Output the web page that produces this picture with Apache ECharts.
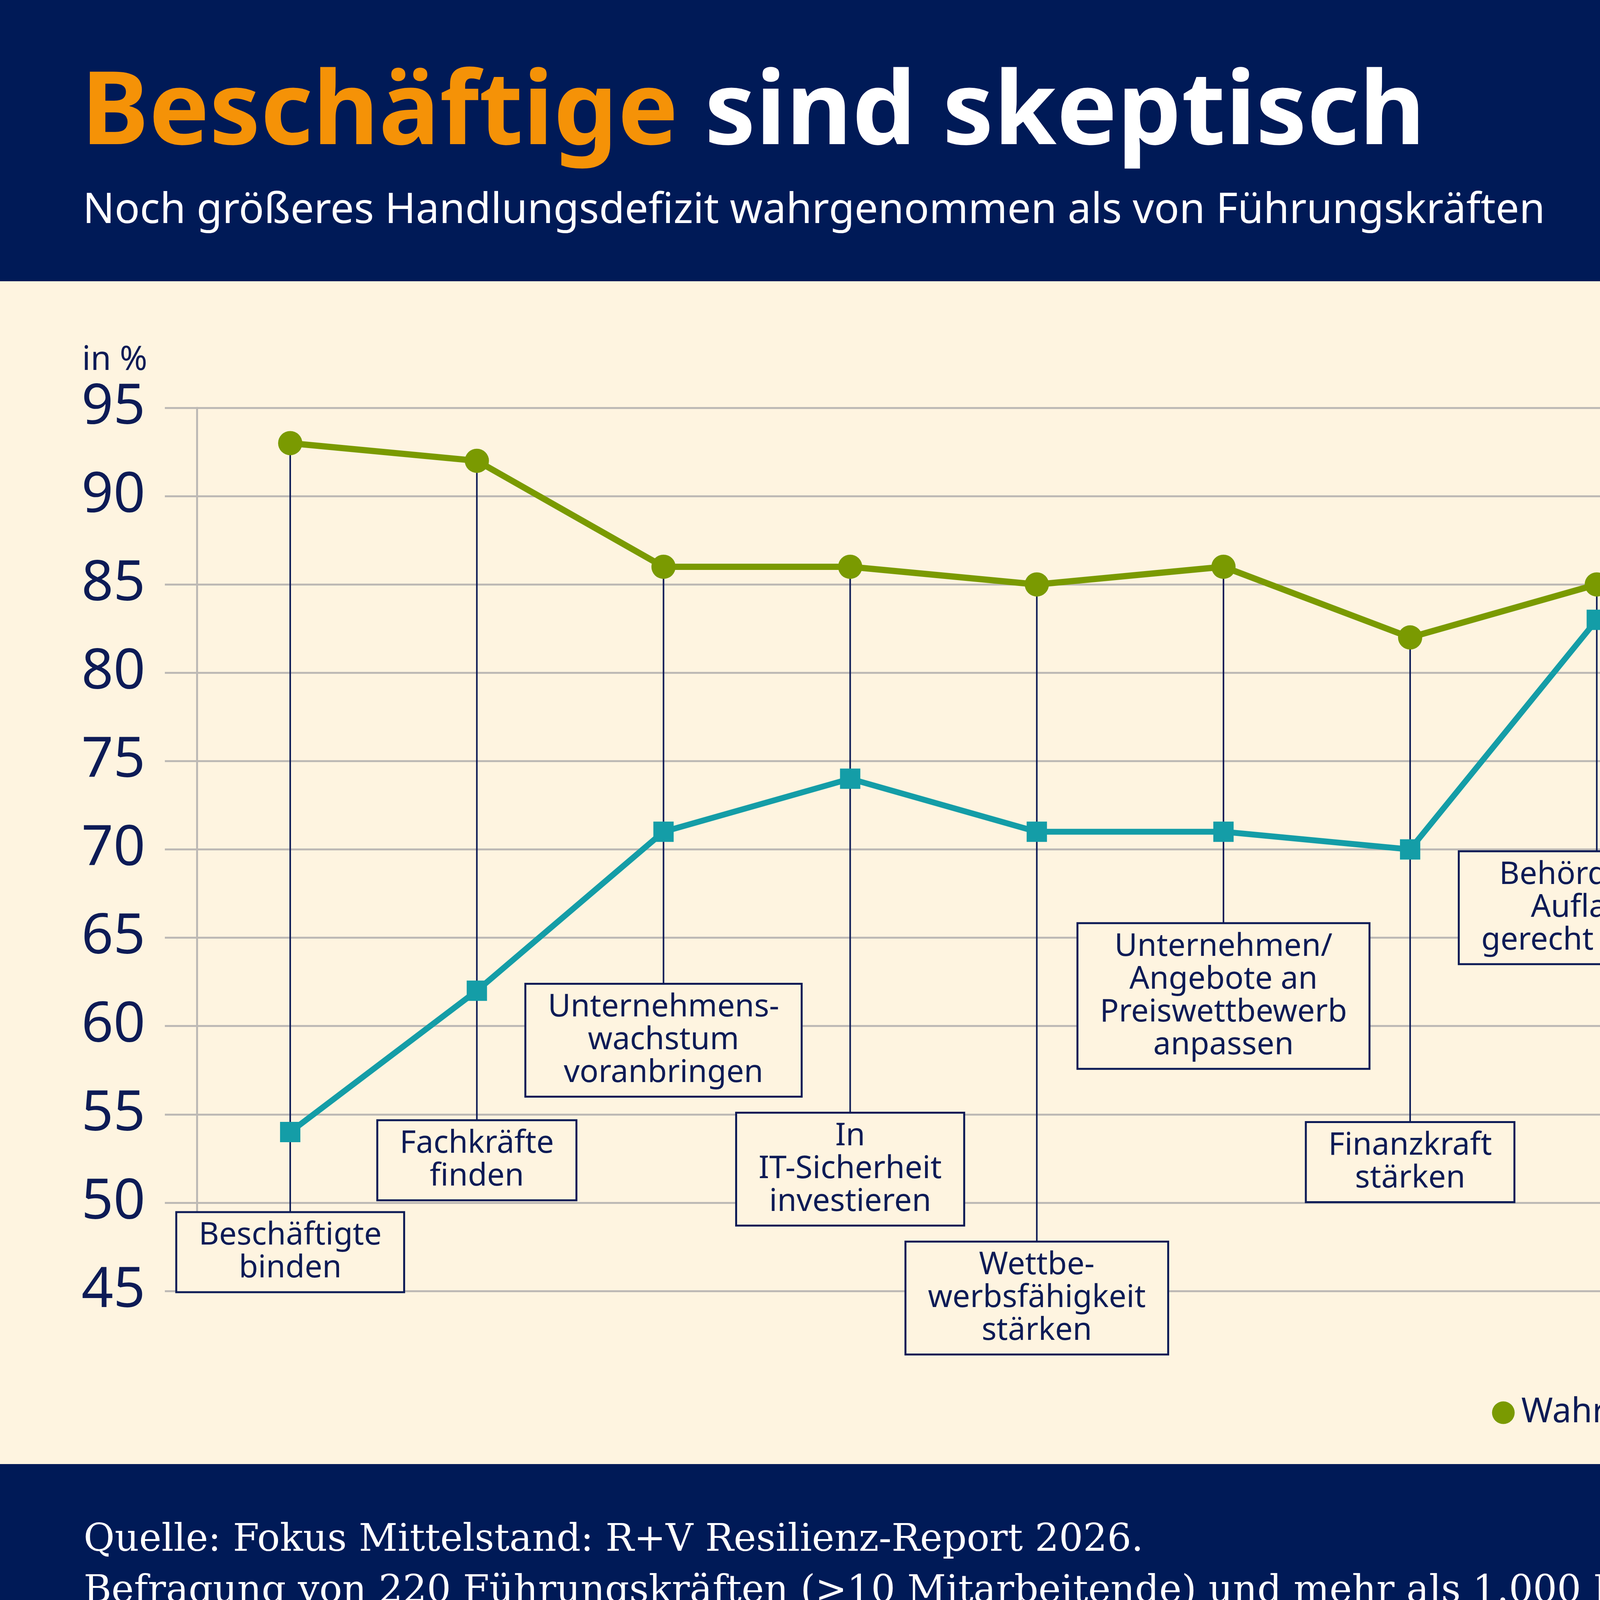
<!DOCTYPE html>
<html>
<head>
<meta charset="utf-8">
<script src="https://cdn.jsdelivr.net/npm/echarts@6/dist/echarts.min.js"></script>
<style>
    html, body { margin: 0; padding: 0; background: #FEF4E0; }
    #container { width: 6444px; height: 4244px; }
</style>
</head>
<body>
<div id="container"></div>
<script>
// Kategorien (Zeilenumbrüche wie in den Kästen)
var categories = [
    'Beschäftigte\nbinden',
    'Fachkräfte\nfinden',
    'Unternehmens-\nwachstum\nvoranbringen',
    'In\nIT-Sicherheit\ninvestieren',
    'Wettbe-\nwerbsfähigkeit\nstärken',
    'Unternehmen/\nAngebote an\nPreiswettbewerb\nanpassen',
    'Finanzkraft\nstärken',
    'Behördlichen\nAuflagen\ngerecht werden',
    'Gegen\nHaftungsrisiken\nabsichern',
    'Generationen-\nwechsel einleiten',
    'KI stärker\nnutzen',
    'Zu Nachhaltigkeit/\nKlimaschutz\nbeitragen'
];
var wichtigkeit = [93, 92, 86, 86, 85, 86, 82, 85, 76, 71, 61, 71];
var massnahmen = [54, 62, 71, 74, 71, 71, 70, 83, 70, 51, 53, 62];
// Lage der Beschriftungskästen auf der y-Achse (in %)
var labelAnchor = [47.2, 52.4, 59.2, 51.9, 44.6, 61.7, 52.3, 66.7, 90.9, 46.5, 81.7, 45.1];
var yTicks = {min: 45, max: 95, interval: 5};

var seriesNames = ['Wahrgenommene Wichtigkeit', 'Ergriffene Maßnahmen'];

var NAVY = '#001A57';
var TEXT = '#0D1B56';
var GREEN = '#7A9A01';
var TEAL = '#149DA7';
var GRID = '#BDB9B5';
var FONT = '"Noto Sans", sans-serif';

function initChart(echarts) {
    var myChart = echarts.init(document.getElementById('container'));

    var labelData = [];
    for (var i = 0; i < categories.length; i++) {
        labelData.push([
            i,
            Math.max(wichtigkeit[i], massnahmen[i]),
            Math.min(wichtigkeit[i], massnahmen[i]),
            labelAnchor[i]
        ]);
    }

    var option = {
        animation: false,
        backgroundColor: '#FEF4E0',
        graphic: [
            {type: 'rect', left: 0, top: 0, shape: {width: 6444, height: 720}, style: {fill: NAVY}, z: 0},
            {type: 'rect', left: 0, top: 3748, shape: {width: 6444, height: 500}, style: {fill: NAVY}, z: 0}
        ],
        title: [
            {
                text: '{o|Beschäftige }{w|sind skeptisch}',
                left: 208, top: 155, padding: 0,
                textStyle: {
                    rich: {
                        o: {color: '#F59207', fontSize: 260, fontWeight: 'bold', fontFamily: FONT, lineHeight: 280},
                        w: {color: '#FFFFFF', fontSize: 260, fontWeight: 'bold', fontFamily: FONT, lineHeight: 280}
                    }
                }
            },
            {
                text: 'Noch größeres Handlungsdefizit wahrgenommen als von Führungskräften',
                left: 212, top: 487, padding: 0,
                textStyle: {color: '#FFFFFF', fontSize: 107, fontWeight: 'normal', fontFamily: FONT}
            },
            {
                text: 'in %',
                left: 210, top: 880, padding: 0,
                textStyle: {color: TEXT, fontSize: 85, fontWeight: 'normal', fontFamily: FONT}
            },
            {
                text: 'Quelle: Fokus Mittelstand: R+V Resilienz-Report 2026.\nBefragung von 220 Führungskräften (>10 Mitarbeitende) und mehr als 1.000 Beschäftigten zur Jahreswende 2025/2026.',
                left: 214, top: 3879, padding: 0,
                textStyle: {color: '#FFFFFF', fontSize: 97, lineHeight: 131, fontWeight: 'normal', fontFamily: '"DejaVu Serif", serif'}
            }
        ],
        legend: {
            data: [
                {name: seriesNames[0], icon: 'circle'},
                {name: seriesNames[1], icon: 'rect'}
            ],
            right: 208, top: 3568,
            itemWidth: 58, itemHeight: 58, itemGap: 90,
            textStyle: {color: TEXT, fontSize: 87, fontFamily: FONT, padding: [0, 0, 0, 12]}
        },
        grid: [
            {left: 504, right: 206, top: 1044, bottom: 939},
            {left: 422, right: 206, top: 1044, bottom: 939}
        ],
        xAxis: [
            {
                type: 'category', gridIndex: 0, data: categories, boundaryGap: true,
                axisLine: {show: false}, axisTick: {show: false}, axisLabel: {show: false}, splitLine: {show: false}
            },
            {type: 'value', gridIndex: 1, min: 0, max: 1, show: false}
        ],
        yAxis: [
            {
                type: 'value', gridIndex: 0, min: yTicks.min, max: yTicks.max, interval: yTicks.interval,
                axisLine: {show: true, lineStyle: {color: GRID, width: 5}},
                axisTick: {show: false}, axisLabel: {show: false}, splitLine: {show: false}
            },
            {
                type: 'value', gridIndex: 1, min: yTicks.min, max: yTicks.max, interval: yTicks.interval,
                axisLine: {show: false}, axisTick: {show: false},
                axisLabel: {color: TEXT, fontSize: 143, fontFamily: FONT, margin: 50},
                splitLine: {show: true, lineStyle: {color: GRID, width: 5}}
            }
        ],
        series: [
            {
                type: 'custom',
                xAxisIndex: 0, yAxisIndex: 0,
                z: 1, silent: true, clip: false,
                data: labelData,
                renderItem: function (params, api) {
                    var idx = api.value(0);
                    var hi = api.value(1);
                    var lo = api.value(2);
                    var anchor = api.value(3);
                    var end = anchor < lo ? hi : lo;
                    var p0 = api.coord([idx, anchor]);
                    var p1 = api.coord([idx, end]);
                    return {
                        type: 'group',
                        children: [
                            {
                                type: 'line',
                                shape: {x1: p0[0], y1: p0[1], x2: p1[0], y2: p1[1]},
                                style: {stroke: TEXT, lineWidth: 4}
                            },
                            {
                                type: 'text',
                                style: {
                                    text: categories[idx],
                                    x: p0[0], y: p0[1],
                                    align: 'center', verticalAlign: 'middle',
                                    fontSize: 80, fontFamily: FONT, lineHeight: 84,
                                    fill: TEXT,
                                    backgroundColor: '#FEF4E0',
                                    borderColor: TEXT, borderWidth: 5,
                                    padding: [18, 55, 14, 55]
                                }
                            }
                        ]
                    };
                }
            },
            {
                name: seriesNames[0],
                type: 'line',
                xAxisIndex: 0, yAxisIndex: 0, z: 3,
                data: wichtigkeit,
                symbol: 'circle', symbolSize: 62,
                itemStyle: {color: GREEN},
                lineStyle: {color: GREEN, width: 16}
            },
            {
                name: seriesNames[1],
                type: 'line',
                xAxisIndex: 0, yAxisIndex: 0, z: 3,
                data: massnahmen,
                symbol: 'rect', symbolSize: 52,
                itemStyle: {color: TEAL},
                lineStyle: {color: TEAL, width: 15}
            }
        ]
    };

    myChart.setOption(option);
}

initChart(echarts);
</script>
</body>
</html>
